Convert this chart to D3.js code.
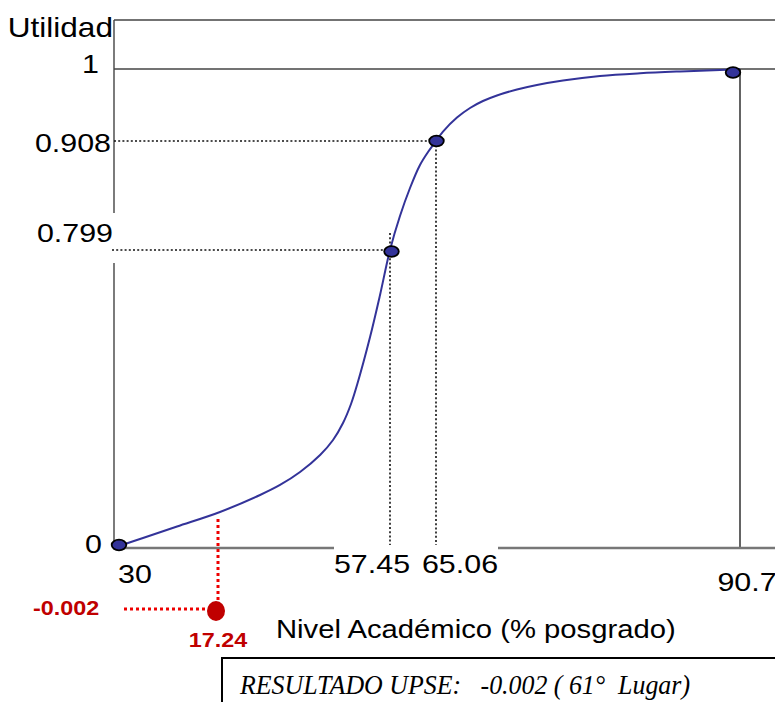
<!DOCTYPE html>
<html>
<head>
<meta charset="utf-8">
<script src="https://cdn.jsdelivr.net/npm/d3@7"></script>
<style>
  html, body { margin: 0; padding: 0; background: #fff; }
  svg { display: block; }
  text { white-space: pre; }
</style>
</head>
<body>
<script>
// ---------- DATA ----------
const keyX = [30, 57.45, 65.06, 90.7];          // x tick values (% posgrado)
const keyY = [0, 0.799, 0.908, 1];              // utility values
const xTickLabels = ["30", "57.45", "65.06", "90.7"];
const yTickLabels = ["0", "0.799", "0.908", "1"];
// utility curve
const curveX = [30, 32.43, 35.88, 40.23, 44.29, 46.31, 48.34, 50.37, 51.68, 52.69, 53.50, 54.11, 55.43, 56.44, 57.45, 59.10, 60.76, 62.41, 63.74, 65.06, 65.65, 66.83, 67.93, 69.02, 70.20, 71.89, 73.57, 75.77, 78.89, 82.27, 85.64, 89.01, 90.7];
const curveU = [0, 0.0216, 0.0526, 0.0918, 0.1377, 0.1647, 0.1997, 0.2456, 0.2861, 0.3320, 0.3833, 0.4346, 0.5642, 0.6775, 0.799, 0.833, 0.861, 0.884, 0.897, 0.908, 0.9201, 0.9380, 0.9502, 0.9591, 0.9662, 0.9738, 0.9796, 0.9853, 0.9911, 0.9946, 0.9969, 0.9987, 1];
const resultValue = "17.24";
const resultUtility = "-0.002";
const yTitle = "Utilidad";
const xTitle = "Nivel Académico (% posgrado)";
const boxText = "RESULTADO UPSE:   -0.002 ( 61°  Lugar)";

// ---------- LAYOUT ----------
const W = 775, H = 702;
const SX = 1.17;  // horizontal stretch of the original picture's text
const sans = "'Liberation Sans', Arial, sans-serif";

const x = d3.scaleLinear().domain(keyX).range([119, 390, 436, 740]);
const y = d3.scaleLinear().domain(keyY).range([546, 250, 141, 69]);

const svg = d3.select("body").append("svg").attr("width", W).attr("height", H);
svg.append("rect").attr("width", W).attr("height", H).attr("fill", "#fff");

function txt(px, py, s, o = {}) {
  return svg.append("text")
    .attr("transform", `translate(${px},${py}) scale(${SX},1)`)
    .attr("text-anchor", o.anchor || "start")
    .attr("font-family", o.family || sans)
    .attr("font-size", o.size || 26)
    .attr("font-weight", o.weight || "normal")
    .attr("font-style", o.style || "normal")
    .attr("fill", o.fill || "#000")
    .text(s);
}
function seg(x1, y1, x2, y2, o = {}) {
  return svg.append("line").attr("x1", x1).attr("y1", y1).attr("x2", x2).attr("y2", y2)
    .attr("stroke", o.stroke || "#444").attr("stroke-width", o.w || 1.5)
    .attr("stroke-dasharray", o.dash || null);
}

const frameL = 114, frameT = 20, axisY = y(0) + 2;

// frame
seg(frameL, frameT, W, frameT, { stroke: "#444", w: 1.6 });
seg(frameL, frameT, frameL, 213, { stroke: "#444", w: 1.4 });
seg(frameL, 263, frameL, axisY, { stroke: "#444", w: 1.4 });
seg(frameL, y(1), W, y(1), { stroke: "#444", w: 1.6 });
seg(x(90.7), y(1), x(90.7), axisY, { stroke: "#222", w: 1.4 });
// bottom axis (broken around the tick labels)
seg(frameL, axisY, 334, axisY, { stroke: "#777", w: 2.5 });
seg(498, axisY, W, axisY, { stroke: "#777", w: 2.5 });

// dotted guides
const dot = { stroke: "#111", w: 1.6, dash: "2,2.2" };
seg(frameL, y(0.908), x(65.06), y(0.908), dot);
seg(x(65.06), y(0.908), x(65.06), y(0) - 1, dot);
seg(112, y(0.799), x(57.45) - 2, y(0.799), dot);
seg(x(57.45), y(0.799) - 17, x(57.45), y(0) - 1, dot);

// curve
const line = d3.line().x((d, i) => x(curveX[i])).y((d, i) => y(curveU[i])).curve(d3.curveCatmullRom.alpha(0.5));
svg.append("path").datum(curveX).attr("d", line)
  .attr("fill", "none").attr("stroke", "#333399").attr("stroke-width", 2);

// markers
const mdx = [0, 1.5, 0.5, -7], mdy = [-1, 1.5, 0, 3.5];
svg.selectAll("ellipse.m").data(keyX).join("ellipse").attr("class", "m")
  .attr("cx", (d, i) => x(d) + mdx[i]).attr("cy", (d, i) => y(keyY[i]) + mdy[i])
  .attr("rx", 7.3).attr("ry", 5.3)
  .attr("fill", "#333399").attr("stroke", "#000").attr("stroke-width", 1.8);

// y labels
const yLabX = [102, 113, 111, 99], yLabDy = [7, -8, 11, 4];
keyY.forEach((v, i) => txt(yLabX[i], y(v) + yLabDy[i], yTickLabels[i], { anchor: "end", size: 26 }));
txt(113, 37, yTitle, { anchor: "end", size: 27 });

// x labels
const xLabDx = [16, -18, 24, 7], xLabY = [583, 573, 573, 591];
keyX.forEach((v, i) => txt(x(v) + xLabDx[i], xLabY[i], xTickLabels[i], { anchor: "middle", size: 26 }));
txt(276, 638, xTitle, { size: 25 });

// result annotation
const resX = 217, resY = 611, red = "#c00000";
seg(resX + 1, 519, resX + 1, 600, { stroke: "#ee0000", w: 3, dash: "3,3" });
seg(124, resY - 2, resX - 8, resY - 2, { stroke: "#ee0000", w: 3, dash: "3,3" });
svg.append("ellipse").attr("cx", resX - 1).attr("cy", resY).attr("rx", 9).attr("ry", 10).attr("fill", red);
txt(33, 615, resultUtility, { size: 20, weight: "bold", fill: red });
txt(218, 647, resultValue, { size: 20, weight: "bold", fill: red, anchor: "middle" });

// result box
svg.append("rect").attr("x", 222).attr("y", 658).attr("width", 600).attr("height", 100)
  .attr("fill", "#fff").attr("stroke", "#000").attr("stroke-width", 2);
svg.append("text").attr("x", 240).attr("y", 694)
  .attr("font-family", "'Liberation Serif', 'DejaVu Serif', serif")
  .attr("font-style", "italic").attr("font-size", 28)
  .attr("textLength", 450).attr("lengthAdjust", "spacingAndGlyphs")
  .text(boxText);
</script>
</body>
</html>
